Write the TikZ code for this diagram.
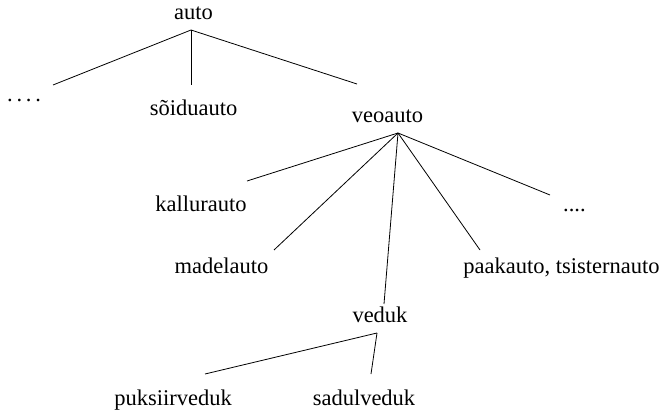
\documentclass[tikz,border=0pt]{standalone}
\usepackage{fontspec}
\setmainfont{Liberation Serif}
\begin{document}
\begin{tikzpicture}[x=1pt,y=-1pt,
  lbl/.style={inner sep=0pt,anchor=base,font=\fontsize{22.5}{27}\selectfont},
  edge/.style={draw=black,line width=0.8pt}]
\useasboundingbox (0,0) rectangle (667,414);
% labels
\node[lbl] (auto) at (193.5,20) {auto};
\node[lbl,anchor=base west] (dotsL) at (7,102) {.\,.\,.\,.};
\node[lbl] (soidu) at (193.5,116) {sõiduauto};
\node[lbl] (veo) at (387.5,123) {veoauto};
\node[lbl] (kallur) at (201,212) {kallurauto};
\node[lbl,anchor=base west] (dotsR) at (563,212) {....};
\node[lbl] (madel) at (221.5,273) {madelauto};
\node[lbl] (paak) at (561.5,273) {paakauto, tsisternauto};
\node[lbl] (veduk) at (380,323) {veduk};
\node[lbl] (puks) at (173,405) {puksiirveduk};
\node[lbl] (sadul) at (364,405) {sadulveduk};
% connector points
\coordinate (autoA) at (191,30);
\coordinate (dotsLT) at (53,85);
\coordinate (soiduT) at (191,85);
\coordinate (veoT) at (357,84);
\coordinate (veoA) at (398,133);
\coordinate (kallurT) at (247,181);
\coordinate (madelT) at (274,250);
\coordinate (vedukT) at (384,304);
\coordinate (paakT) at (480,250);
\coordinate (dotsRT) at (550,195);
\coordinate (vedukA) at (377,333);
\coordinate (puksT) at (205,374);
\coordinate (sadulT) at (371,374);
% connectors
\draw[edge] (autoA) -- (dotsLT);
\draw[edge] (autoA) -- (soiduT);
\draw[edge] (autoA) -- (veoT);
\draw[edge] (veoA) -- (kallurT);
\draw[edge] (veoA) -- (madelT);
\draw[edge] (veoA) -- (vedukT);
\draw[edge] (veoA) -- (paakT);
\draw[edge] (veoA) -- (dotsRT);
\draw[edge] (vedukA) -- (puksT);
\draw[edge] (vedukA) -- (sadulT);
\end{tikzpicture}
\end{document}
